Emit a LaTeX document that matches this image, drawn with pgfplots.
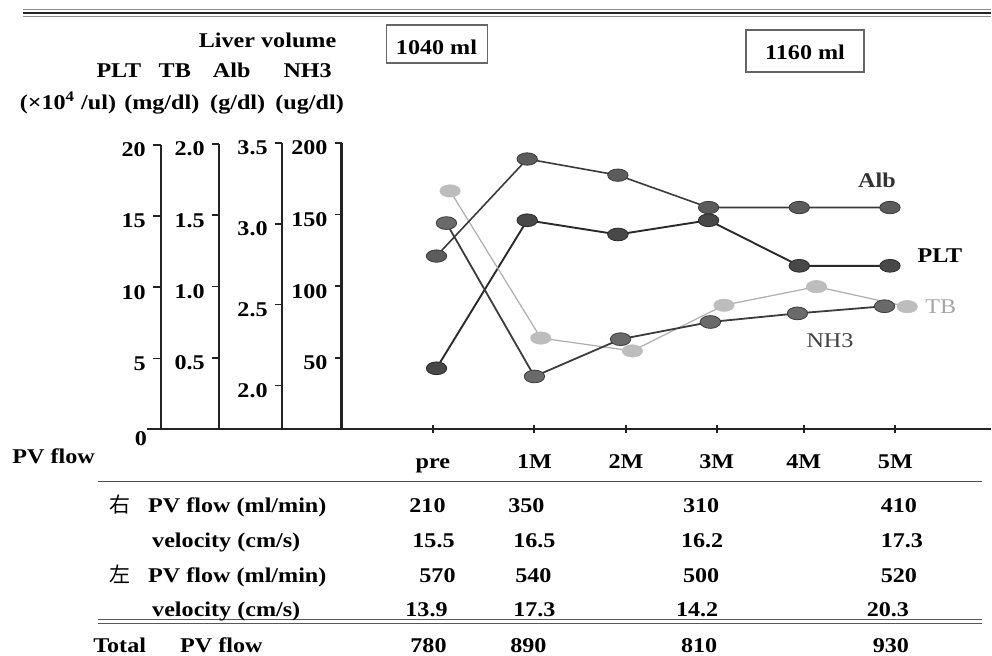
\documentclass[border=0pt]{standalone}
\usepackage{pgfplots}
\pgfplotsset{compat=1.18}
\usepackage{fontspec}
\setmainfont{Liberation Serif}[FakeStretch=1.15]
\newfontfamily\cjk{Noto Sans CJK JP}
\definecolor{albfill}{HTML}{5C5C5C}
\definecolor{albline}{HTML}{3A3A3A}
\definecolor{pltfill}{HTML}{484848}
\definecolor{pltline}{HTML}{2A2A2A}
\definecolor{nhfill}{HTML}{6A6A6A}
\definecolor{nhline}{HTML}{3C3C3C}
\definecolor{tbfill}{HTML}{BDBDBD}
\definecolor{tbline}{HTML}{ADADAD}
\definecolor{axc}{HTML}{222222}
\newcommand{\tf}{\fontsize{10.5}{12}\selectfont\bfseries}
\pgfplotsset{
  leftax/.style={scale only axis, clip=false, anchor=south west,
    axis y line=left,
    axis line style={-, line width=1pt, draw=axc},
    tick align=outside, major tick length=3.5pt,
    ytick style={line width=0.8pt, draw=axc},
    yticklabel style={font=\tf, yshift=-2.5pt},
    xmax=6.112,
    /pgf/number format/assume math mode=true,
  },
}
\begin{document}
\begin{tikzpicture}[font=\tf]
\begin{scope}[x=0.5pt,y=-0.5pt]
  \path (0,0) rectangle (992,656);
  \coordinate (aPLT) at (161,430);
  \coordinate (aTB) at (219,430);
  \coordinate (aAlb) at (282,430);
  \coordinate (aNH) at (342,430);
  \draw[line width=1pt, axc] (147,430) -- (992,430);
\end{scope}

% PLT (x10^4/ul)
\begin{axis}[leftax, at={(aPLT)}, xmin=-3.040, width=415.5pt, height=142.5pt,
  ymin=0, ymax=20, ytick={5,10,15,20}, yticklabels={5,10,15,20},
  axis x line=bottom, axis line style={-, line width=1pt, draw=axc},
  major tick length=4pt,
  xtick={-0.04,1.08,2.09,3.09,4.05,5.06}, xticklabels={pre,1M,2M,3M,4M,5M},
  xtick style={line width=1pt, draw=axc},
  xticklabel style={anchor=base, yshift=-17.5pt, font=\tf}]
\addplot[pltline, line width=0.95pt, mark=*, mark size=3.2pt,
  mark options={fill=pltfill, draw=pltline, line width=0.4pt, xscale=1.6}]
  coordinates {(0,4.3) (1,14.7) (2,13.7) (3,14.7) (4,11.5) (5,11.5)};
\end{axis}

% TB (mg/dl)
\begin{axis}[leftax, axis x line=none, at={(aTB)}, xmin=-2.401, width=386.5pt, height=143pt,
  ymin=0, ymax=2, ytick={0.5,1,1.5,2}, yticklabels={0.5,1.0,1.5,2.0}]
\addplot[tbline, line width=0.6pt, mark=*, mark size=3.1pt,
  mark options={fill=tbfill, draw=tbfill, line width=0.3pt, xscale=1.65}]
  coordinates {(0.15,1.67) (1.15,0.64) (2.16,0.55) (3.17,0.87) (4.19,1.0) (5.19,0.86)};
\end{axis}

% Alb (g/dl)
\begin{axis}[leftax, axis x line=none, at={(aAlb)}, xmin=-1.707, width=355pt, height=143.5pt,
  ymin=1.728, ymax=3.5, ytick={2,2.5,3,3.5}, yticklabels={2.0,2.5,3.0,3.5}]
\addplot[albline, line width=0.8pt, mark=*, mark size=3.1pt,
  mark options={fill=albfill, draw=albline, line width=0.4pt, xscale=1.65}]
  coordinates {(0,2.8) (1,3.4) (2,3.3) (3,3.1) (4,3.1) (5,3.1)};
\end{axis}

% NH3 (ug/dl)
\begin{axis}[leftax, axis x line=none, at={(aNH)}, xmin=-1.046, width=325pt, height=143.5pt,
  ymin=0, ymax=200, ytick={50,100,150,200}, yticklabels={50,100,150,200},
  axis line style={-, line width=1.4pt, draw=axc}]
\addplot[nhline, line width=0.9pt, mark=*, mark size=3.2pt,
  mark options={fill=nhfill, draw=nhline, line width=0.4pt, xscale=1.6}]
  coordinates {(0.11,144) (1.08,37) (2.03,63) (3.02,75) (3.98,81) (4.94,86)};
\end{axis}

\begin{scope}[x=0.5pt,y=-0.5pt]
  % top rule
  \draw[line width=0.4pt, black!45] (23,9.5) -- (992,9.5);
  \draw[line width=1.2pt, black!85] (23,13) -- (992,13);
  \draw[line width=0.4pt, black!45] (23,16.5) -- (992,16.5);
  % headers
  \node[anchor=base east, inner sep=0] at (337,48) {Liver volume};
  \node[anchor=base, inner sep=0] at (119,78) {PLT};
  \node[anchor=base, inner sep=0] at (175,78) {TB};
  \node[anchor=base, inner sep=0] at (232,78) {Alb};
  \node[anchor=base, inner sep=0] at (308,78) {NH3};
  \node[anchor=base, inner sep=0] at (68,110) {(×10\textsuperscript{4} /ul)};
  \node[anchor=base, inner sep=0] at (162,110) {(mg/dl)};
  \node[anchor=base, inner sep=0] at (238,110) {(g/dl)};
  \node[anchor=base, inner sep=0] at (310,110) {(ug/dl)};
  % liver volume boxes
  \draw[line width=0.9pt, black!60] (387,25) rectangle (488,63);
  \node[anchor=base, inner sep=0] at (437,55) {1040 ml};
  \draw[line width=0.9pt, black!60] (747,30) rectangle (865,72);
  \node[anchor=base, inner sep=0] at (806,60) {1160 ml};
  % series labels
  \node[anchor=center, text=black!80] at (878,181) {Alb};
  \node[anchor=center, text=black] at (941,256) {PLT};
  \node[anchor=center, text=black!35, font=\fontsize{10.5}{12}\selectfont\mdseries] at (942,307) {TB};
  \node[anchor=center, text=black!75, font=\fontsize{10.5}{12}\selectfont\mdseries] at (831,341) {NH3};
  % zero and PV flow
  \node[anchor=center, inner sep=0] at (141,439) {0};
  \node[anchor=base west, inner sep=0] at (12,464) {PV flow};
  % table rules
  \draw[line width=0.9pt, black!70] (98,482) -- (983,482);
  \draw[line width=0.6pt, black!65] (98,620.5) -- (983,620.5);
  \draw[line width=0.6pt, black!65] (98,624) -- (983,624);
  % row labels
  \node[anchor=base, inner sep=0] at (120,513) {\cjk\mdseries 右};
  \node[anchor=base west, inner sep=0] at (148,513) {PV flow (ml/min)};
  \node[anchor=base west, inner sep=0] at (152,548) {velocity (cm/s)};
  \node[anchor=base, inner sep=0] at (120,583) {\cjk\mdseries 左};
  \node[anchor=base west, inner sep=0] at (148,583) {PV flow (ml/min)};
  \node[anchor=base west, inner sep=0] at (152,617) {velocity (cm/s)};
  \node[anchor=base west, inner sep=0] at (93,653) {Total};
  \node[anchor=base west, inner sep=0] at (180,653) {PV flow};
  % values
  \foreach \x/\v in {428/210, 527/350, 702/310, 900/410}
    \node[anchor=base, inner sep=0] at (\x,513) {\v};
  \foreach \x/\v in {434/15.5, 535/16.5, 703/16.2, 903/17.3}
    \node[anchor=base, inner sep=0] at (\x,548) {\v};
  \foreach \x/\v in {438/570, 534/540, 702/500, 900/520}
    \node[anchor=base, inner sep=0] at (\x,583) {\v};
  \foreach \x/\v in {427/13.9, 535/17.3, 698/14.2, 889/20.3}
    \node[anchor=base, inner sep=0] at (\x,617) {\v};
  \foreach \x/\v in {429/780, 529/890, 700/810, 892/930}
    \node[anchor=base, inner sep=0] at (\x,653) {\v};
\end{scope}
\end{tikzpicture}
\end{document}
